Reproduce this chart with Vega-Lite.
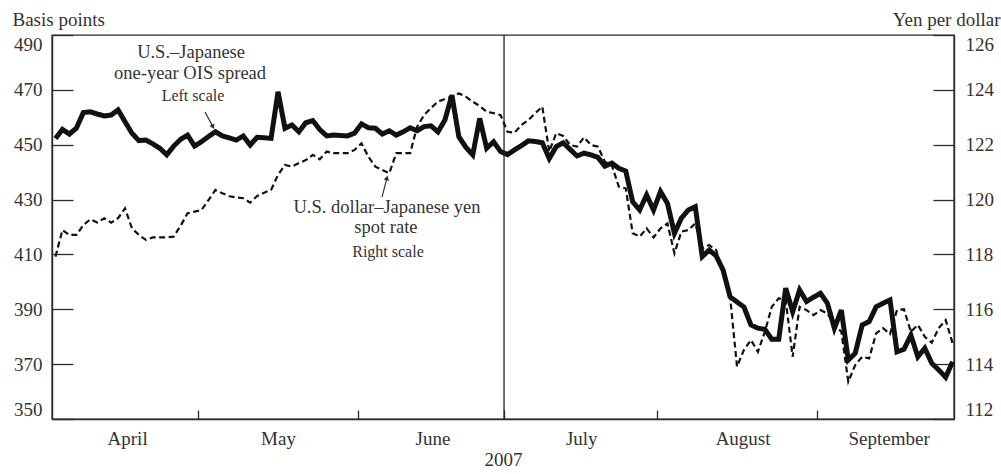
{
  "$schema": "https://vega.github.io/schema/vega-lite/v6.json",
  "width": 902,
  "height": 384,
  "autosize": {"type": "none"},
  "padding": {"left": 52, "top": 35, "right": 47, "bottom": 55},
  "config": {
    "font": "Liberation Serif",
    "view": {"stroke": "#2b2b2b", "strokeWidth": 1.4},
    "axis": {
      "labelFont": "Liberation Serif",
      "titleFont": "Liberation Serif",
      "labelFontSize": 19,
      "titleFontSize": 19,
      "labelColor": "#333333",
      "titleColor": "#333333",
      "titleFontWeight": "normal",
      "domainColor": "#2b2b2b",
      "tickColor": "#2b2b2b",
      "domainWidth": 1.4,
      "tickWidth": 1.3,
      "grid": false,
      "ticks": true,
      "zindex": 1
    }
  },
  "datasets": {
    "series": [
      {"day": 0, "ois": 452.3, "yen": 117.92},
      {"day": 1, "ois": 455.6, "yen": 118.89},
      {"day": 2, "ois": 453.9, "yen": 118.71},
      {"day": 3, "ois": 456.0, "yen": 118.71},
      {"day": 4, "ois": 461.7, "yen": 119.07},
      {"day": 5, "ois": 462.0, "yen": 119.28},
      {"day": 6, "ois": 461.2, "yen": 119.16},
      {"day": 7, "ois": 460.5, "yen": 119.32},
      {"day": 8, "ois": 460.8, "yen": 119.16},
      {"day": 9, "ois": 462.7, "yen": 119.32},
      {"day": 10, "ois": 458.4, "yen": 119.68},
      {"day": 11, "ois": 454.2, "yen": 118.95},
      {"day": 12, "ois": 451.5, "yen": 118.71},
      {"day": 13, "ois": 451.7, "yen": 118.53},
      {"day": 14, "ois": 450.3, "yen": 118.62},
      {"day": 15, "ois": 448.7, "yen": 118.62},
      {"day": 16, "ois": 446.3, "yen": 118.62},
      {"day": 17, "ois": 449.5, "yen": 118.65},
      {"day": 18, "ois": 452.0, "yen": 119.05},
      {"day": 19, "ois": 453.5, "yen": 119.50},
      {"day": 20, "ois": 449.5, "yen": 119.56},
      {"day": 21, "ois": 451.1, "yen": 119.62},
      {"day": 22, "ois": 453.0, "yen": 119.98},
      {"day": 23, "ois": 454.7, "yen": 120.35},
      {"day": 24, "ois": 453.2, "yen": 120.23},
      {"day": 25, "ois": 452.5, "yen": 120.12},
      {"day": 26, "ois": 451.7, "yen": 120.08},
      {"day": 27, "ois": 453.2, "yen": 120.05},
      {"day": 28, "ois": 449.9, "yen": 119.89},
      {"day": 29, "ois": 452.7, "yen": 120.13},
      {"day": 30, "ois": 452.5, "yen": 120.25},
      {"day": 31, "ois": 452.3, "yen": 120.35},
      {"day": 32, "ois": 469.3, "yen": 120.90},
      {"day": 33, "ois": 456.0, "yen": 121.26},
      {"day": 34, "ois": 457.2, "yen": 121.20},
      {"day": 35, "ois": 454.7, "yen": 121.33},
      {"day": 36, "ois": 458.0, "yen": 121.44},
      {"day": 37, "ois": 458.8, "yen": 121.63},
      {"day": 38, "ois": 455.5, "yen": 121.47},
      {"day": 39, "ois": 453.2, "yen": 121.75},
      {"day": 40, "ois": 453.5, "yen": 121.69},
      {"day": 41, "ois": 453.4, "yen": 121.69},
      {"day": 42, "ois": 453.2, "yen": 121.69},
      {"day": 43, "ois": 454.2, "yen": 121.81},
      {"day": 44, "ois": 457.6, "yen": 122.05},
      {"day": 45, "ois": 456.2, "yen": 121.56},
      {"day": 46, "ois": 456.0, "yen": 121.20},
      {"day": 47, "ois": 453.9, "yen": 121.08},
      {"day": 48, "ois": 455.1, "yen": 120.96},
      {"day": 49, "ois": 453.5, "yen": 121.69},
      {"day": 50, "ois": 454.7, "yen": 121.69},
      {"day": 51, "ois": 456.2, "yen": 121.69},
      {"day": 52, "ois": 455.1, "yen": 122.66},
      {"day": 53, "ois": 456.6, "yen": 123.08},
      {"day": 54, "ois": 456.9, "yen": 123.34},
      {"day": 55, "ois": 454.7, "yen": 123.57},
      {"day": 56, "ois": 459.0, "yen": 123.67},
      {"day": 57, "ois": 468.1, "yen": 123.75},
      {"day": 58, "ois": 452.9, "yen": 123.87},
      {"day": 59, "ois": 449.1, "yen": 123.75},
      {"day": 60, "ois": 446.3, "yen": 123.57},
      {"day": 61, "ois": 459.6, "yen": 123.41},
      {"day": 62, "ois": 448.7, "yen": 123.20},
      {"day": 63, "ois": 451.1, "yen": 123.15},
      {"day": 64, "ois": 447.5, "yen": 123.08},
      {"day": 65, "ois": 446.4, "yen": 122.47},
      {"day": 66, "ois": 448.1, "yen": 122.44},
      {"day": 67, "ois": 449.7, "yen": 122.72},
      {"day": 68, "ois": 451.4, "yen": 122.90},
      {"day": 69, "ois": 451.2, "yen": 123.15},
      {"day": 70, "ois": 450.7, "yen": 123.39},
      {"day": 71, "ois": 445.0, "yen": 121.75},
      {"day": 72, "ois": 449.3, "yen": 122.42},
      {"day": 73, "ois": 450.7, "yen": 122.32},
      {"day": 74, "ois": 448.3, "yen": 121.99},
      {"day": 75, "ois": 445.9, "yen": 121.93},
      {"day": 76, "ois": 446.9, "yen": 122.27},
      {"day": 77, "ois": 446.3, "yen": 121.99},
      {"day": 78, "ois": 445.4, "yen": 121.93},
      {"day": 79, "ois": 442.2, "yen": 121.38},
      {"day": 80, "ois": 443.3, "yen": 121.25},
      {"day": 81, "ois": 441.4, "yen": 120.47},
      {"day": 82, "ois": 440.4, "yen": 120.41},
      {"day": 83, "ois": 429.2, "yen": 118.77},
      {"day": 84, "ois": 426.2, "yen": 118.65},
      {"day": 85, "ois": 431.7, "yen": 118.95},
      {"day": 86, "ois": 426.2, "yen": 118.62},
      {"day": 87, "ois": 432.9, "yen": 118.95},
      {"day": 88, "ois": 428.6, "yen": 119.13},
      {"day": 89, "ois": 417.7, "yen": 118.04},
      {"day": 90, "ois": 423.2, "yen": 118.83},
      {"day": 91, "ois": 426.2, "yen": 118.89},
      {"day": 92, "ois": 427.4, "yen": 119.13},
      {"day": 93, "ois": 409.2, "yen": 118.22},
      {"day": 94, "ois": 411.6, "yen": 118.34},
      {"day": 95, "ois": 409.5, "yen": 118.16},
      {"day": 96, "ois": 404.3, "yen": 117.31},
      {"day": 97, "ois": 394.6, "yen": 116.46},
      {"day": 98, "ois": 392.7, "yen": 113.91},
      {"day": 99, "ois": 390.8, "yen": 114.52},
      {"day": 100, "ois": 384.3, "yen": 114.88},
      {"day": 101, "ois": 383.1, "yen": 114.45},
      {"day": 102, "ois": 382.7, "yen": 115.18},
      {"day": 103, "ois": 379.1, "yen": 116.09},
      {"day": 104, "ois": 379.1, "yen": 116.40},
      {"day": 105, "ois": 397.7, "yen": 116.34},
      {"day": 106, "ois": 389.1, "yen": 114.27},
      {"day": 107, "ois": 397.0, "yen": 116.09},
      {"day": 108, "ois": 392.8, "yen": 115.97},
      {"day": 109, "ois": 394.4, "yen": 115.79},
      {"day": 110, "ois": 395.8, "yen": 115.97},
      {"day": 111, "ois": 392.2, "yen": 115.85},
      {"day": 112, "ois": 383.1, "yen": 115.43},
      {"day": 113, "ois": 389.7, "yen": 115.18},
      {"day": 114, "ois": 371.5, "yen": 113.36},
      {"day": 115, "ois": 374.0, "yen": 113.97},
      {"day": 116, "ois": 384.3, "yen": 114.27},
      {"day": 117, "ois": 385.5, "yen": 114.21},
      {"day": 118, "ois": 390.9, "yen": 115.12},
      {"day": 119, "ois": 392.2, "yen": 115.31},
      {"day": 120, "ois": 393.4, "yen": 115.10},
      {"day": 121, "ois": 374.5, "yen": 115.97},
      {"day": 122, "ois": 375.4, "yen": 116.00},
      {"day": 123, "ois": 380.6, "yen": 115.18},
      {"day": 124, "ois": 372.7, "yen": 115.43},
      {"day": 125, "ois": 375.8, "yen": 115.00},
      {"day": 126, "ois": 370.3, "yen": 114.78},
      {"day": 127, "ois": 367.9, "yen": 115.31},
      {"day": 128, "ois": 365.2, "yen": 115.61},
      {"day": 129, "ois": 370.9, "yen": 114.76}
    ],
    "labelsBig": [
      {"day": 19.5, "bp": 481.6, "text": "U.S.–Japanese"},
      {"day": 19.35, "bp": 474.0, "text": "one-year OIS spread"},
      {"day": 47.67, "bp": 425.2, "text": "U.S. dollar–Japanese yen"},
      {"day": 47.52, "bp": 417.9, "text": "spot rate"}
    ],
    "labelsSmall": [
      {"day": 19.77, "bp": 465.9, "text": "Left scale"},
      {"day": 47.81, "bp": 409.2, "text": "Right scale"}
    ],
    "arrows": [
      {"day": 21.5, "bp": 461.9, "day2": 22.65, "bp2": 456.5},
      {"day": 46.95, "bp": 430.9, "day2": 47.67, "bp2": 437.9}
    ],
    "head1": [{"day": 22.65, "bp": 456.5}],
    "head2": [{"day": 47.67, "bp": 437.9}],
    "july": [{"day": 64.5}]
  },
  "layer": [
    {
      "layer": [
        {
          "data": {"name": "series"},
          "mark": {"type": "line", "color": "#111111", "strokeWidth": 5},
          "encoding": {
            "x": {
              "field": "day",
              "type": "quantitative",
              "scale": {"domain": [-0.5, 129.2], "nice": false, "zero": false},
              "axis": {
                "values": [10.3, 20.5, 32, 43.5, 54.2, 64.5, 75.6, 86.5, 98.8, 109.5, 119.8],
                "labelExpr": "datum.value % 1 == 0.5 ? '' : datum.value < 20 ? 'April' : datum.value < 40 ? 'May' : datum.value < 60 ? 'June' : datum.value < 80 ? 'July' : datum.value < 105 ? 'August' : 'September'",
                "tickSize": -9,
                "tickOpacity": {"condition": {"test": "datum.value % 1 == 0.5", "value": 1}, "value": 0},
                "labelPadding": 19,
                "labelOverlap": false,
                "labelFlush": false,
                "title": "2007",
                "titleY": 46,
                "titleBaseline": "alphabetic"
              }
            },
            "y": {
              "field": "ois",
              "type": "quantitative",
              "scale": {"domain": [350, 490], "nice": false, "zero": false},
              "axis": {
                "title": "Basis points",
                "values": [350, 370, 390, 410, 430, 450, 470, 490],
                "tickSize": -21,
                "tickOpacity": {"condition": {"test": "datum.value > 0", "value": 1}, "value": 1},
                "labelPadding": 31,
                "labelFlush": true,
                "titleAngle": 0,
                "titleAlign": "left",
                "titleBaseline": "alphabetic",
                "titleX": -40,
                "titleY": -10
              }
            }
          }
        },
        {
          "data": {"name": "july"},
          "mark": {"type": "rule", "color": "#222222", "strokeWidth": 1.3},
          "encoding": {
            "x": {"field": "day", "type": "quantitative", "scale": {"domain": [-0.5, 129.2], "nice": false, "zero": false}}
          }
        },
        {
          "data": {"name": "labelsBig"},
          "mark": {"type": "text", "fontSize": 18.5, "font": "Liberation Serif", "color": "#333333", "align": "center", "baseline": "alphabetic"},
          "encoding": {
            "x": {"field": "day", "type": "quantitative", "scale": {"domain": [-0.5, 129.2], "nice": false, "zero": false}},
            "y": {"field": "bp", "type": "quantitative", "scale": {"domain": [350, 490], "nice": false, "zero": false}},
            "text": {"field": "text"}
          }
        },
        {
          "data": {"name": "labelsSmall"},
          "mark": {"type": "text", "fontSize": 16, "font": "Liberation Serif", "color": "#333333", "align": "center", "baseline": "alphabetic"},
          "encoding": {
            "x": {"field": "day", "type": "quantitative", "scale": {"domain": [-0.5, 129.2], "nice": false, "zero": false}},
            "y": {"field": "bp", "type": "quantitative", "scale": {"domain": [350, 490], "nice": false, "zero": false}},
            "text": {"field": "text"}
          }
        },
        {
          "data": {"name": "arrows"},
          "mark": {"type": "rule", "color": "#333333", "strokeWidth": 1.2},
          "encoding": {
            "x": {"field": "day", "type": "quantitative", "scale": {"domain": [-0.5, 129.2], "nice": false, "zero": false}},
            "y": {"field": "bp", "type": "quantitative", "scale": {"domain": [350, 490], "nice": false, "zero": false}},
            "x2": {"field": "day2"},
            "y2": {"field": "bp2"}
          }
        },
        {
          "data": {"name": "head1"},
          "mark": {"type": "point", "shape": "triangle-up", "filled": true, "color": "#333333", "size": 30, "angle": 152, "opacity": 1},
          "encoding": {
            "x": {"field": "day", "type": "quantitative", "scale": {"domain": [-0.5, 129.2], "nice": false, "zero": false}},
            "y": {"field": "bp", "type": "quantitative", "scale": {"domain": [350, 490], "nice": false, "zero": false}}
          }
        },
        {
          "data": {"name": "head2"},
          "mark": {"type": "point", "shape": "triangle-up", "filled": true, "color": "#333333", "size": 30, "angle": 15, "opacity": 1},
          "encoding": {
            "x": {"field": "day", "type": "quantitative", "scale": {"domain": [-0.5, 129.2], "nice": false, "zero": false}},
            "y": {"field": "bp", "type": "quantitative", "scale": {"domain": [350, 490], "nice": false, "zero": false}}
          }
        }
      ]
    },
    {
      "data": {"name": "series"},
      "mark": {"type": "line", "color": "#111111", "strokeWidth": 2.2, "strokeDash": [6, 3.5]},
      "encoding": {
        "x": {"field": "day", "type": "quantitative", "scale": {"domain": [-0.5, 129.2], "nice": false, "zero": false}},
        "y": {
          "field": "yen",
          "type": "quantitative",
          "scale": {"domain": [112, 126], "nice": false, "zero": false},
          "axis": {
            "orient": "right",
            "title": "Yen per dollar",
            "values": [112, 114, 116, 118, 120, 122, 124, 126],
            "tickSize": -21,
            "tickOpacity": {"condition": {"test": "datum.value > 0", "value": 1}, "value": 1},
            "labelPadding": 32,
            "labelFlush": true,
            "titleAngle": 0,
            "titleAlign": "right",
            "titleBaseline": "alphabetic",
            "titleX": 46,
            "titleY": -10
          }
        }
      }
    }
  ],
  "resolve": {"scale": {"y": "independent"}}
}
